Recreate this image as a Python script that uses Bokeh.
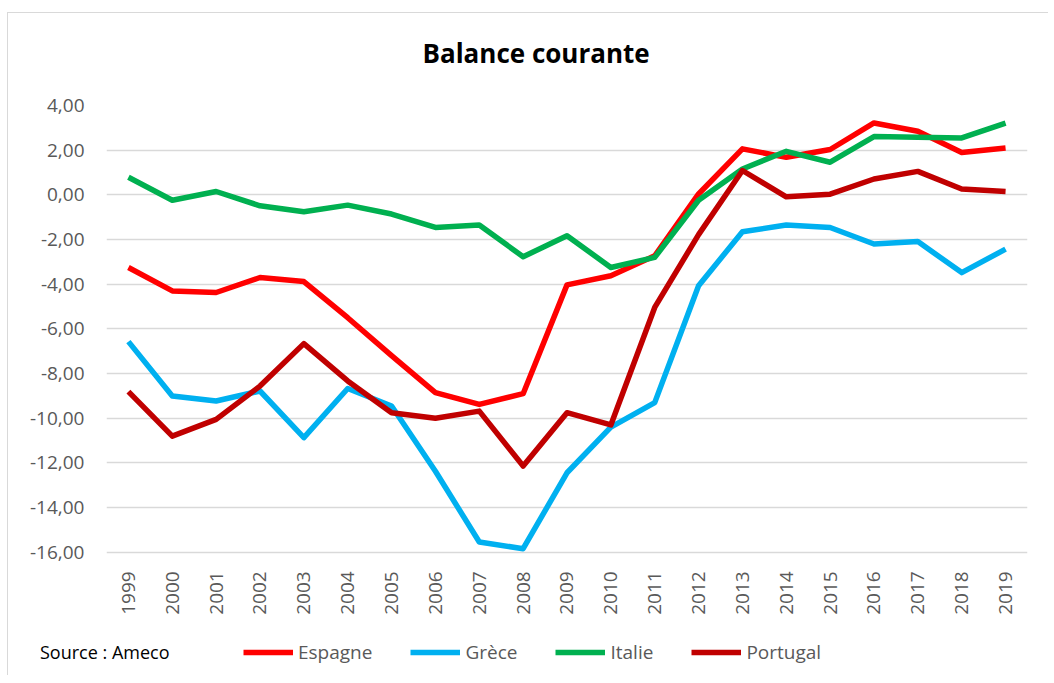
from bokeh.plotting import figure
from bokeh.models import (Range1d, FactorRange, FixedTicker, CustomJSTickFormatter,
                          Legend, LegendItem, Title, Div)
from bokeh.layouts import column
from bokeh.embed import file_html
from bokeh.resources import INLINE
import math

years = [str(y) for y in range(1999, 2020)]
espagne = [-3.25, -4.30, -4.37, -3.70, -3.88, -5.50, -7.20, -8.85, -9.38, -8.90,
           -4.03, -3.62, -2.73, 0.04, 2.06, 1.68, 2.03, 3.22, 2.85, 1.90, 2.10]
grece = [-6.57, -9.00, -9.23, -8.78, -10.87, -8.67, -9.45, -12.37, -15.54, -15.84,
         -12.44, -10.40, -9.30, -4.07, -1.65, -1.35, -1.46, -2.20, -2.09, -3.48, -2.43]
italie = [0.79, -0.24, 0.15, -0.49, -0.76, -0.46, -0.86, -1.46, -1.35, -2.77,
          -1.83, -3.25, -2.80, -0.24, 1.16, 1.95, 1.46, 2.61, 2.58, 2.55, 3.21]
portugal = [-8.81, -10.80, -10.05, -8.56, -6.66, -8.33, -9.75, -10.00, -9.68, -12.14,
            -9.75, -10.30, -5.04, -1.78, 1.09, -0.09, 0.03, 0.71, 1.05, 0.26, 0.15]
series_names = ["Espagne", "Grèce", "Italie", "Portugal"]
series_colors = ["#FF0000", "#00B0F0", "#00B050", "#C00000"]
y_ticks = [4, 2, 0, -2, -4, -6, -8, -10, -12, -14, -16]
title_text = "Balance courante"
source_text = "Source : Ameco"

FONT = "Open Sans"

# the plotting frame extends below the value axis to hold the year labels and legend
Y_TOP, Y_BOTTOM = 4, -16
GRID_PX = 446            # pixel height between 4,00 and -16,00
FRAME_PX = 570           # total frame height
y_start = Y_BOTTOM - (FRAME_PX - GRID_PX) * (Y_TOP - Y_BOTTOM) / GRID_PX

p = figure(frame_width=920, frame_height=FRAME_PX, x_range=FactorRange(*years),
           y_range=Range1d(y_start, Y_TOP),
           output_backend="svg", toolbar_location=None,
           min_border_left=98, min_border_right=22, min_border_top=92, min_border_bottom=0)
p.styles = {"margin-left": "7px", "margin-top": "12px",
            "border-left": "1px solid #d9d9d9", "border-top": "1px solid #d9d9d9"}
p.outline_line_color = None
p.background_fill_color = "white"
p.border_fill_color = "white"
p.title_location = None

# spacer between the frame and the title, then the title itself
spacer = Title(text=" ", text_font_size="1px", standoff=32)
p.add_layout(spacer, "above")
main_title = Title(text=title_text, align="left", offset=316, standoff=0,
                   text_font=FONT, text_font_style="bold", text_font_size="26px",
                   text_color="black")
p.add_layout(main_title, "above")

# axes
p.yaxis.ticker = FixedTicker(ticks=y_ticks)
p.yaxis.formatter = CustomJSTickFormatter(code="return tick.toFixed(2).replace('.', ',');")
p.yaxis.axis_line_color = None
p.yaxis.major_tick_line_color = None
p.yaxis.minor_tick_line_color = None
p.yaxis.major_label_standoff = 16
p.yaxis.major_label_text_font = FONT
p.yaxis.major_label_text_font_size = "19px"
p.yaxis.major_label_text_color = "#595959"

p.xaxis.fixed_location = Y_BOTTOM
p.xaxis.axis_line_color = None
p.xaxis.major_tick_line_color = None
p.xaxis.major_label_orientation = math.pi / 2
p.xaxis.major_label_standoff = 13
p.xaxis.major_label_text_font = FONT
p.xaxis.major_label_text_font_size = "19px"
p.xaxis.major_label_text_color = "#595959"

p.xgrid.grid_line_color = None
p.ygrid.grid_line_color = "#D9D9D9"
p.ygrid.grid_line_width = 1.5

renderers = []
for name, vals, col in zip(series_names, [espagne, grece, italie, portugal], series_colors):
    r = p.line(years, vals, line_color=col, line_width=5.5, line_join="round")
    renderers.append(r)

legend = Legend(items=[LegendItem(label=n, renderers=[r]) for n, r in zip(series_names, renderers)],
                orientation="horizontal", location=(137, 11))
legend.padding = 0
legend.margin = 0
legend.border_line_color = None
legend.background_fill_alpha = 0
legend.glyph_width = 50
legend.glyph_height = 20
legend.label_height = 20
legend.label_standoff = 5
legend.spacing = 38
legend.label_text_font = FONT
legend.label_text_font_size = "19px"
legend.label_text_color = "#595959"
legend.label_text_baseline = "middle"
p.add_layout(legend, "center")

src = Div(text=source_text,
          styles={"position": "absolute", "left": "35px", "top": "635px",
                  "font-family": "Open Sans", "font-size": "18px", "color": "black",
                  "white-space": "nowrap", "line-height": "24px"})

layout = column(p, src)
open("out.html", "w").write(file_html(layout, INLINE))
